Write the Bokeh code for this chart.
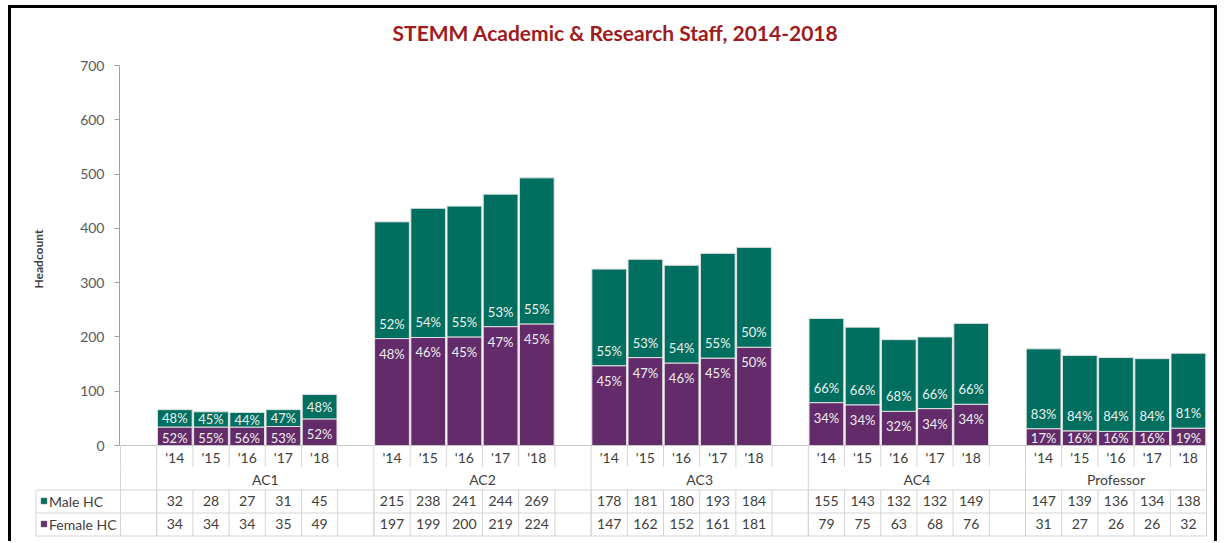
from bokeh.plotting import figure
from bokeh.models import Range1d, FixedTicker, ColumnDataSource
from bokeh.core.properties import value
from bokeh.embed import file_html
from bokeh.resources import INLINE

# ---------------- data ----------------
title = "STEMM Academic & Research Staff, 2014-2018"
groups = ["AC1", "AC2", "AC3", "AC4", "Professor"]
years = ["'14", "'15", "'16", "'17", "'18"]
male_hc = [32, 28, 27, 31, 45,
           215, 238, 241, 244, 269,
           178, 181, 180, 193, 184,
           155, 143, 132, 132, 149,
           147, 139, 136, 134, 138]
female_hc = [34, 34, 34, 35, 49,
             197, 199, 200, 219, 224,
             147, 162, 152, 161, 181,
             79, 75, 63, 68, 76,
             31, 27, 26, 26, 32]
row_names = ["Male HC", "Female HC"]
y_ticks = [0, 100, 200, 300, 400, 500, 600, 700]

# ---------------- styling / geometry ----------------
TEAL = "#016F5F"
PURPLE = "#632B69"
GRID = "#D4D4D4"
TXT = "#404040"
FONT = "Lato"
BORDER = "3px solid black"

SLOT = 36.2            # px per category slot
PXY = 380.0 / 700.0    # px per headcount unit
OX, OY = 11, 8         # page position of the content (inside black border)
W = 1209
HEAD_END = 50          # page y where the title strip ends
H_HEAD = HEAD_END - OY + 3   # the host height includes its top border
SPLIT = 467            # page y where the chart figure ends
BOTTOM = 541


def px2x(px):
    return -0.5 + (px - 120) / SLOT


def px2y(py):
    return (445 - py) / PXY


def plain(fig):
    fig.outline_line_color = None
    fig.xgrid.visible = False
    fig.ygrid.visible = False
    fig.border_fill_color = "white"
    return fig


lbl_kw = dict(text_font=value(FONT), text_align="center",
              text_baseline="middle")

# ---------------- title strip ----------------
head = plain(figure(width=W, height=H_HEAD, output_backend="svg",
                    toolbar_location=None,
                    x_range=Range1d(OX, OX + W),
                    y_range=Range1d(OY + H_HEAD, OY),
                    x_axis_location=None, y_axis_location=None,
                    min_border_left=0, min_border_right=0, min_border_top=0,
                    min_border_bottom=0,
                    styles={"border-left": BORDER, "border-right": BORDER,
                            "border-top": BORDER, "margin-left": "8px",
                            "margin-top": "5px"}))
head.text(x=[615], y=[32], text=[title], text_color="#9E1B20",
          text_font_size="21px", text_font_style="bold", **lbl_kw)

# ---------------- chart: bars + year row ----------------
FL, FR = 119, 1208
top = plain(figure(width=W, height=SPLIT - HEAD_END, output_backend="svg",
                   toolbar_location=None,
                   x_range=Range1d(px2x(FL), px2x(FR)),
                   y_range=Range1d(px2y(SPLIT), px2y(HEAD_END)),
                   x_axis_location=None,
                   min_border_left=FL - OX, min_border_right=OX + W - FR,
                   min_border_top=0, min_border_bottom=0,
                   styles={"border-left": BORDER, "border-right": BORDER,
                           "margin-left": "8px"}))

ax = top.yaxis[0]
ax.ticker = FixedTicker(ticks=y_ticks)
ax.bounds = (0, 700)
ax.axis_line_color = "#A0A0A0"
ax.major_tick_line_color = "#A0A0A0"
ax.major_tick_out = 5
ax.major_tick_in = 0
ax.minor_tick_out = 0
ax.minor_tick_in = 0
ax.major_label_text_font = FONT
ax.major_label_text_font_size = "14px"
ax.major_label_text_color = "#595959"
ax.major_label_standoff = 10
ax.axis_label = "Headcount"
ax.axis_label_text_font = FONT
ax.axis_label_text_font_size = "12px"
ax.axis_label_text_font_style = "bold"
ax.axis_label_text_color = TXT
ax.axis_label_standoff = 31

xs, yr_lbl = [], []
for gi, g in enumerate(groups):
    for yi, yv in enumerate(years):
        xs.append(1 + 6 * gi + yi)
        yr_lbl.append(yv)

tot = [m + f for m, f in zip(male_hc, female_hc)]


def pct(a, t):
    return "%d%%" % int(100.0 * a / t + 0.5)


m_txt = [pct(m, t) for m, t in zip(male_hc, tot)]
f_txt = [pct(f, t) for f, t in zip(female_hc, tot)]
m_y = [f + min(15, m * PXY / 2) / PXY for m, f in zip(male_hc, female_hc)]
f_y = [f - min(15, f * PXY - 8) / PXY for f in female_hc]

src = ColumnDataSource(dict(x=xs, female=female_hc, male=male_hc, tot=tot,
                            mt=m_txt, ft=f_txt, my=m_y, fy=f_y,
                            yl=yr_lbl,
                            ms=[str(v) for v in male_hc],
                            fs=[str(v) for v in female_hc]))

top.vbar_stack(["female", "male"], x="x", width=0.96, source=src,
               fill_color=[PURPLE, TEAL], line_color="#E2E2E2",
               line_width=1)

top.text(x="x", y="my", text="mt", source=src, text_color="#EFEFEF",
         text_font_size="13px", **lbl_kw)
top.text(x="x", y="fy", text="ft", source=src, text_color="#EFEFEF",
         text_font_size="13px", **lbl_kw)

# year row of the data table
top.text(x="x", y=px2y(456.5), text="yl", source=src, text_color=TXT,
         text_font_size="14px", **lbl_kw)

grp_l = [0.5 + 6 * gi for gi in range(len(groups))]
grp_r = [min(gl + 6, 29.5) for gl in grp_l]
grp_c = [(a + b) / 2 for a, b in zip(grp_l, grp_r)]
bounds_all = [k - 0.5 for k in range(31)]
grp_bounds = [-0.5] + grp_l + [29.5]
n = len(bounds_all)
y_split = px2y(SPLIT + 1)

top.segment(x0=bounds_all, y0=[0] * n, x1=bounds_all, y1=[y_split] * n,
            line_color=GRID, line_width=1)
top.segment(x0=[-0.5], y0=[0], x1=[29.5], y1=[0], line_color="#C8C8C8",
            line_width=1)

# ---------------- table: group row + value rows ----------------
bot = plain(figure(width=W, height=BOTTOM - SPLIT, output_backend="svg",
                   toolbar_location=None,
                   x_range=Range1d(px2x(OX), px2x(OX + W)),
                   y_range=Range1d(BOTTOM, SPLIT),
                   x_axis_location=None, y_axis_location=None,
                   min_border_left=0, min_border_right=0, min_border_top=0,
                   min_border_bottom=0,
                   styles={"border-left": BORDER, "border-right": BORDER,
                           "margin-left": "8px"}))

Y_GROUP, Y_MALE, Y_FEM = 478.5, 500.5, 523.5
B_GROUP, B_MALE, B_FEM = 489.5, 512.5, 535.5
left_x = px2x(35.5)

bot.text(x=grp_c, y=[Y_GROUP] * len(groups), text=groups, text_color=TXT,
         text_font_size="14px", **lbl_kw)
bot.text(x="x", y=Y_MALE, text="ms", source=src, text_color=TXT,
         text_font_size="14px", **lbl_kw)
bot.text(x="x", y=Y_FEM, text="fs", source=src, text_color=TXT,
         text_font_size="14px", **lbl_kw)

bot.segment(x0=grp_bounds, y0=[SPLIT - 1] * len(grp_bounds), x1=grp_bounds,
            y1=[B_FEM] * len(grp_bounds), line_color=GRID, line_width=1)
bot.segment(x0=bounds_all + [left_x], y0=[B_GROUP] * (n + 1),
            x1=bounds_all + [left_x], y1=[B_FEM] * (n + 1),
            line_color=GRID, line_width=1)
bot.segment(x0=[left_x] * 3, y0=[B_GROUP, B_MALE, B_FEM], x1=[29.5] * 3,
            y1=[B_GROUP, B_MALE, B_FEM], line_color=GRID, line_width=1)

# legend keys of the table
bot.rect(x=[px2x(43.5)] * 2, y=[Y_MALE, Y_FEM], width=6, height=6,
         width_units="screen", height_units="screen",
         fill_color=[TEAL, PURPLE], line_color="#808080", line_width=0.5)
bot.text(x=[px2x(48.5)] * 2, y=[Y_MALE, Y_FEM], text=row_names,
         text_color=TXT, text_font=value(FONT), text_font_size="14px",
         text_align="left", text_baseline="middle")

open("out.html", "w").write(file_html([head, top, bot], INLINE))
